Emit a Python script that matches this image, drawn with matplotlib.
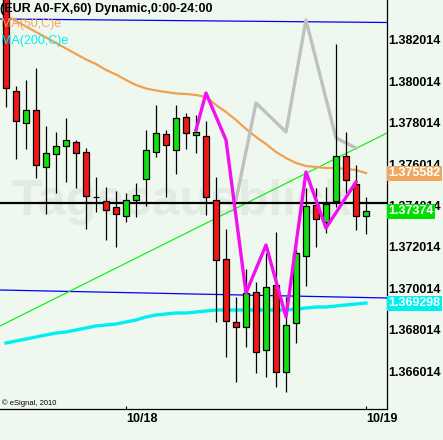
import numpy as np
import matplotlib
matplotlib.use('Agg')
from matplotlib import pyplot as plt

plt.rcParams['font.family'] = ['Liberation Sans', 'DejaVu Sans']

# hourly candles, EUR A0-FX 60 min (open, high, low, close)
opens = [1.384431, 1.379535, 1.377988, 1.378616, 1.375890, 1.376490, 1.376876, 1.377070,
         1.376586, 1.374426, 1.374218, 1.373943, 1.373493, 1.374267, 1.375282, 1.376586,
         1.377456, 1.376683, 1.378293, 1.377408, 1.377374, 1.374267, 1.371415, 1.368371,
         1.368129, 1.369820, 1.367017, 1.370158, 1.365954, 1.368322, 1.371560, 1.374025,
         1.373232, 1.374218, 1.376393, 1.375040, 1.373493]
highs = [1.384700, 1.379791, 1.380081, 1.380661, 1.377858, 1.377568, 1.378230, 1.377181,
         1.376780, 1.375393, 1.374910, 1.374716, 1.374605, 1.375088, 1.377664, 1.378873,
         1.377650, 1.378873, 1.378471, 1.378389, 1.378099, 1.375407, 1.372880, 1.369608,
         1.370946, 1.370304, 1.371720, 1.372720, 1.369608, 1.372169, 1.374847, 1.374876,
         1.374924, 1.381821, 1.377568, 1.375973, 1.374412]
lows = [1.378790, 1.376277, 1.376760, 1.375359, 1.373590, 1.374605, 1.375166, 1.374876,
        1.372865, 1.373687, 1.372362, 1.372024, 1.373232, 1.373474, 1.373991, 1.376374,
        1.374441, 1.375552, 1.376760, 1.376567, 1.373556, 1.368400, 1.366708, 1.365500,
        1.367191, 1.365906, 1.365712, 1.365258, 1.364987, 1.367385, 1.370139, 1.372010,
        1.372672, 1.373957, 1.374605, 1.372831, 1.372652]
closes = [1.379680, 1.378085, 1.378616, 1.375958, 1.376538, 1.376876, 1.377166, 1.376538,
          1.374460, 1.374426, 1.373783, 1.373619, 1.374267, 1.374523, 1.376683, 1.377519,
          1.376925, 1.378230, 1.377505, 1.377568, 1.374412, 1.371367, 1.368419, 1.368129,
          1.369787, 1.366921, 1.370062, 1.365983, 1.368225, 1.371705, 1.373991, 1.373348,
          1.374073, 1.376393, 1.375233, 1.373493, 1.373740]

ma50 = [1.383198, 1.382932, 1.382666, 1.382401, 1.382135, 1.381869, 1.381603, 1.381337,
        1.381072, 1.380854, 1.380564, 1.380347, 1.380081, 1.379839, 1.379670, 1.379573,
        1.379501, 1.379428, 1.379404, 1.379356, 1.379259, 1.378873, 1.378534, 1.378148,
        1.377713, 1.377326, 1.376988, 1.376601, 1.376311, 1.376069, 1.375924, 1.375876,
        1.375828, 1.375828, 1.375779, 1.375731, 1.375582]
ma200 = [1.367370, 1.367467, 1.367563, 1.367660, 1.367757, 1.367853, 1.367902, 1.367998,
         1.368095, 1.368192, 1.368240, 1.368288, 1.368385, 1.368482, 1.368627, 1.368723,
         1.368772, 1.368820, 1.368820, 1.368868, 1.368917, 1.368965, 1.368965, 1.368965,
         1.368965, 1.368965, 1.368965, 1.368965, 1.368965, 1.369013, 1.369062, 1.369110,
         1.369110, 1.369158, 1.369207, 1.369255, 1.369298]

zig_x = [19, 20, 22, 24, 26, 28, 30, 32, 35]
zig_y = [1.377664, 1.379452, 1.377181, 1.369787, 1.372106, 1.368627, 1.375634, 1.372928, 1.375151]
gray_x = [23, 25, 28, 30, 33, 35]
gray_y = [1.374281, 1.378969, 1.377568, 1.382981, 1.377278, 1.376794]

edge_x = [-0.6, 38.1]
trend_y = [1.368192, 1.377519]
chan_top = [1.383029, 1.382860]
chan_bot = [1.369931, 1.369545]
level = 1.374136

yticks = [1.366014, 1.368014, 1.370014, 1.372014, 1.374014, 1.376014, 1.378014, 1.380014, 1.382014]
date_pos = [12, 36]
date_labels = ['10/18', '10/19']

bg = '#eff8ef'
red = '#f01818'
green = '#10e010'

fig = plt.figure(figsize=(4.43, 4.40), dpi=100, facecolor=bg)
ax = fig.add_axes([0, 31/440, 387/443, 409/440], facecolor=bg)

def px(x, y):
    return x/443, 1 - y/440

# watermark
ax.text(0.47, 0.474, 'Tagesausblick', transform=ax.transAxes, ha='center', va='baseline',
        fontsize=36, fontweight='bold', color='#e2ebe2', zorder=0)

fig.text(*px(-0.5, 12), '(EUR A0-FX,60) Dynamic,0:00-24:00', fontsize=9, fontweight='bold',
         color='black', va='baseline', zorder=1)
fig.text(*px(1, 27), 'MA(50,C)e', fontsize=9, color='#f0a860', va='baseline', zorder=1)
fig.text(*px(1, 44), 'MA(200,C)e', fontsize=9, color='#00f0f0', va='baseline', zorder=1)

ax.plot(edge_x, chan_top, color='#0000ff', lw=0.9, zorder=2)
ax.plot(edge_x, chan_bot, color='#0000ff', lw=0.9, zorder=2)
ax.plot(edge_x, trend_y, color='#00ee00', lw=0.8, zorder=2)
ax.axhline(level, color='black', lw=1.6, zorder=2)
ax.plot(range(len(ma50)), ma50, color='#f0a050', lw=1.6, zorder=2)
ax.plot(range(len(ma200)), ma200, color='#00f0f0', lw=2.4, zorder=2)
ax.plot(gray_x, gray_y, color='#c0c0c0', lw=2.4, zorder=2)

idx = np.arange(len(opens))
o = np.array(opens)
c = np.array(closes)
ax.vlines(idx, lows, highs, color='black', lw=0.9, zorder=3)
cols = [green if cc > oo else (red if cc < oo else 'black') for oo, cc in zip(o, c)]
ax.bar(idx, np.abs(c - o), bottom=np.minimum(o, c), width=0.64, color=cols,
       edgecolor='black', linewidth=0.9, zorder=4)

ax.plot(zig_x, zig_y, color='#f010f0', lw=2.4, zorder=5)

ax.set_xlim(edge_x)
ax.set_ylim(1.364180, 1.383947)

for s in ['left', 'top']:
    ax.spines[s].set_visible(False)
for s in ['right', 'bottom']:
    ax.spines[s].set_linewidth(0.9)

ax.yaxis.tick_right()
ax.set_yticks(yticks)
ax.set_yticklabels(['%.6f' % t for t in yticks], fontweight='bold')
ax.tick_params(axis='y', length=0, pad=1, labelsize=9)
ax.set_xticks(date_pos)
ax.set_xticklabels(date_labels, fontweight='bold', ha='left')
ax.tick_params(axis='x', direction='in', length=2, pad=3, labelsize=9)

# last value boxes
tr = ax.get_yaxis_transform()
for val, txt, col in [(ma50[-1], '1.375582', '#f0a860'), (closes[-1], '1.37374', '#00e000'),
                      (ma200[-1], '1.369298', '#00f0f0')]:
    ax.text(1.003, val, txt, transform=tr, ha='left', va='center', fontsize=9,
            fontweight='bold', color='white', clip_on=False, zorder=6,
            bbox=dict(boxstyle='square,pad=0.12', fc=col, ec='none'))

fig.text(*px(2, 405), '\u00a9 eSignal, 2010', fontsize=5.5, color='black', va='baseline')

fig.savefig('out.png', dpi=100, facecolor=bg)
